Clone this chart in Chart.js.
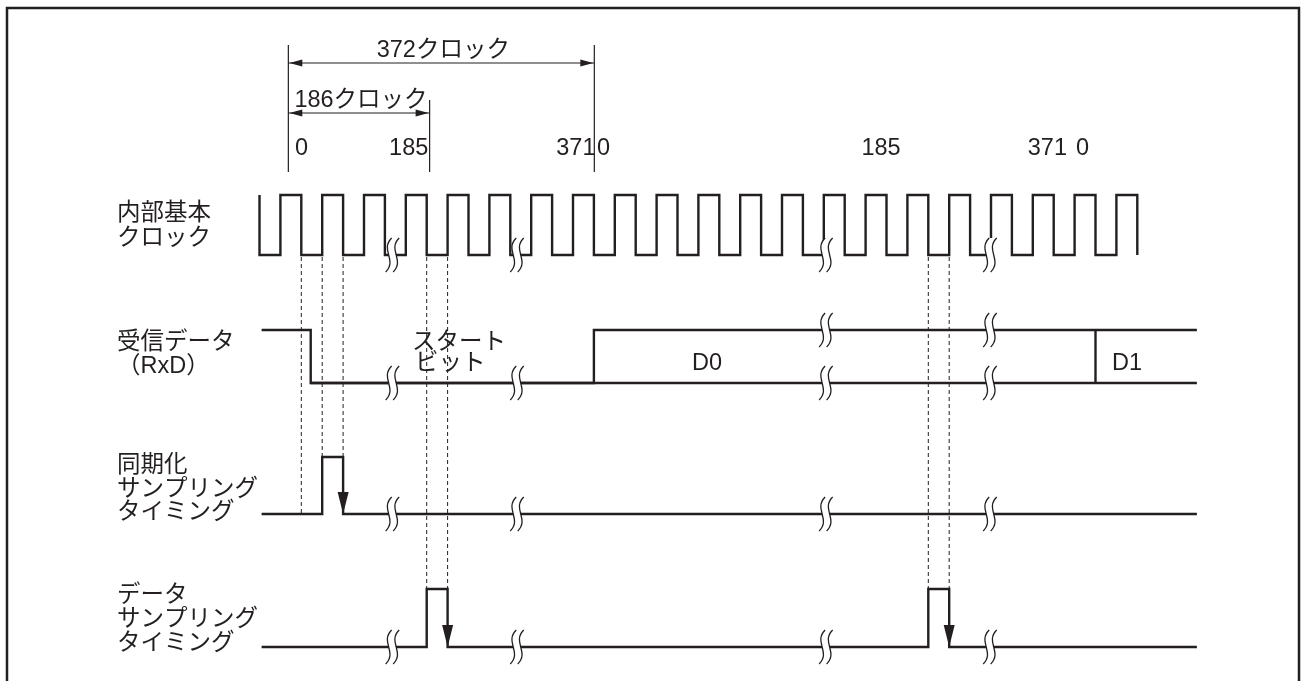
<!DOCTYPE html>
<html>
<head>
<meta charset="utf-8">
<script src="https://cdn.jsdelivr.net/npm/chart.js@4.4.1/dist/chart.umd.min.js"></script>
<style>
  html, body { margin: 0; padding: 0; background: #fff; }
</style>
</head>
<body>
<canvas id="timing" width="1308" height="681"></canvas>
<script>
// time axis is in half clock periods, levels: 0 = low, 1 = high
const clockLevels = [0,1,0,1,0,1,0,1,0,1, 0,1,0,1,0,1,0,1,0,1, 0,1,0,1,0,1,0,1,0,1, 0,1,0,1,0,1,0,1,0,1, 0,1];
const clockStartLevel = 1;
const clockEndLevel = 0;

const rxdTimes = [0.1, 2.45, 16, 44.85];
const rxdLevels = [1, 0, 1];
const rxdLowTimes = [2.45, 44.85];   // lower rail of the data bus
const busFields = ['D0', 'D1'];
const busFieldTimes = [16, 40];

const syncTimes = [0.1, 3, 4, 44.85];
const syncLevels = [0, 1, 0];

const sampleTimes = [0.1, 8, 9, 32, 33, 44.85];
const sampleLevels = [0, 1, 0, 1, 0];

const guideTimes = [2, 3, 4, 8, 9, 32, 33];
const guideTargets = ['sync', 'sync', 'sync', 'data', 'data', 'data', 'data'];
const guideLevels = [0, 1, 1, 1, 1, 1, 1];

const breakTimes = [6.36, 12.32, 27.1, 34.95];

const counterLabels = ['0', '185', '371', '0', '185', '371', '0'];
const counterTimes = [1.7, 6.2, 14.2, 16.15, 28.8, 36.76, 39.07];

const markerTimes = [1.38, 8.14, 16.02];
const spanLabels = ['372クロック', '186クロック'];
const spanFrom = [1.38, 1.38];
const spanTo = [16.02, 8.14];

const laneLabels = {
  clock: ['内部基本', 'クロック'],
  rxd: ['受信データ', '（RxD）'],
  sync: ['同期化', 'サンプリング', 'タイミング'],
  data: ['データ', 'サンプリング', 'タイミング'],
};
const startBitLabel = ['スタート', 'ビット'];

// ---- layout ----
const INK = '#231f20';
const W = 1308, H = 681;
const PX_T0 = 259.5, PX_PER_T = 20.9;
const FONT = '23.5px "Liberation Sans", "Noto Sans CJK JP", sans-serif';
const lanes = {
  clock: { base: 255, height: 60, labelY: [214, 239] },
  rxd: { base: 383, height: 53, labelY: [343, 367] },
  sync: { base: 514, height: 57, labelY: [466, 490, 513] },
  data: { base: 647, height: 58, labelY: [596, 620, 644] },
};
const labelX = 117;
const markerTop = [45, 100, 45], markerBottom = 172;
const spanY = [63, 113];
const counterY = 155;
const busLabelTimes = [20.69, 40.79], busLabelY = 370;
const startBitPos = [[7.3, 343], [7.44, 364]];

const level = (lane, v) => lanes[lane].base - v * lanes[lane].height;

function trace(lane, times, levels) {
  const pts = [];
  levels.forEach((v, i) => {
    pts.push({ x: times[i], y: level(lane, v) });
    pts.push({ x: times[i + 1], y: level(lane, v) });
  });
  return pts;
}

function line(data, extra) {
  return Object.assign({
    data: data,
    showLine: true,
    borderColor: INK,
    borderWidth: 2.4,
    pointRadius: 0,
    fill: false,
    clip: false,
    borderJoinStyle: 'miter',
    borderCapStyle: 'butt',
  }, extra || {});
}

// clock: index of each half period is its time
const clockAll = [clockStartLevel].concat(clockLevels, [clockEndLevel]);
const clockTimes = [0].concat(clockLevels.map((_, i) => i), [clockLevels.length, clockLevels.length]);

const datasets = [
  line(trace('clock', clockTimes, clockAll)),
  line(trace('rxd', rxdTimes, rxdLevels)),
  line(trace('rxd', rxdLowTimes, [0])),
  line(trace('sync', syncTimes, syncLevels)),
  line(trace('data', sampleTimes, sampleLevels)),
];

busFieldTimes.slice(1).forEach((t) => {
  datasets.push(line([{ x: t, y: level('rxd', 0) }, { x: t, y: level('rxd', 1) }]));
});

guideTimes.forEach((t, i) => {
  datasets.push(line([
    { x: t, y: level('clock', 0) + 2 },
    { x: t, y: level(guideTargets[i], guideLevels[i]) },
  ], { borderWidth: 1, borderDash: [4, 3] }));
});

markerTimes.forEach((t, i) => {
  datasets.push(line([{ x: t, y: markerTop[i] }, { x: t, y: markerBottom }], { borderWidth: 1.2 }));
});

spanLabels.forEach((_, i) => {
  datasets.push(line([{ x: spanFrom[i], y: spanY[i] }, { x: spanTo[i], y: spanY[i] }], { borderWidth: 1.2 }));
});

// wavy double line that marks skipped clocks
function drawBreak(ctx, x, y) {
  const hh = 17, gap = 7.5;
  const curve = (cx) => [[cx + 3, y - hh], [cx - 9, y - 5], [cx + 9, y + 5], [cx - 3, y + hh]];
  const a = curve(x - gap / 2), b = curve(x + gap / 2);
  ctx.save();
  ctx.beginPath();
  ctx.moveTo(a[0][0], a[0][1]);
  ctx.bezierCurveTo(a[1][0], a[1][1], a[2][0], a[2][1], a[3][0], a[3][1]);
  ctx.lineTo(b[3][0], b[3][1]);
  ctx.bezierCurveTo(b[2][0], b[2][1], b[1][0], b[1][1], b[0][0], b[0][1]);
  ctx.closePath();
  ctx.fillStyle = '#fff';
  ctx.fill();
  ctx.strokeStyle = INK;
  ctx.lineWidth = 1.3;
  [a, b].forEach((c) => {
    ctx.beginPath();
    ctx.moveTo(c[0][0], c[0][1]);
    ctx.bezierCurveTo(c[1][0], c[1][1], c[2][0], c[2][1], c[3][0], c[3][1]);
    ctx.stroke();
  });
  ctx.restore();
}

function arrowHead(ctx, tipX, tipY, dx, dy, len, half) {
  // dx, dy: unit direction the arrow points to
  const bx = tipX - dx * len, by = tipY - dy * len;
  ctx.beginPath();
  ctx.moveTo(tipX, tipY);
  ctx.lineTo(bx - dy * half, by + dx * half);
  ctx.lineTo(bx + dy * half, by - dx * half);
  ctx.closePath();
  ctx.fill();
}

const diagramPlugin = {
  id: 'diagram',
  afterDatasetsDraw(chart) {
    const ctx = chart.ctx;
    const xs = chart.scales.x, ys = chart.scales.y;
    const px = (t) => xs.getPixelForValue(t);
    const py = (v) => ys.getPixelForValue(v);
    ctx.save();

    // breaks
    breakTimes.forEach((t) => {
      drawBreak(ctx, px(t), py(level('clock', 0)));
      drawBreak(ctx, px(t), py(level('rxd', 0)));
      if (t > busFieldTimes[0]) drawBreak(ctx, px(t), py(level('rxd', 1)));
      drawBreak(ctx, px(t), py(level('sync', 0)));
      drawBreak(ctx, px(t), py(level('data', 0)));
    });

    ctx.fillStyle = INK;
    // sampling arrows on falling edges
    [['sync', syncTimes, syncLevels], ['data', sampleTimes, sampleLevels]].forEach(([lane, times, levels]) => {
      levels.forEach((v, i) => {
        if (v === 1 && levels[i + 1] === 0) {
          arrowHead(ctx, px(times[i + 1]), py(level(lane, 0)), 0, 1, 22, 5.5);
        }
      });
    });

    // span arrows
    spanLabels.forEach((_, i) => {
      const y = py(spanY[i]);
      arrowHead(ctx, px(spanFrom[i]) + 1, y, -1, 0, 13, 3.5);
      arrowHead(ctx, px(spanTo[i]) - 1, y, 1, 0, 13, 3.5);
    });

    // text
    ctx.font = FONT;
    ctx.textBaseline = 'alphabetic';
    ctx.textAlign = 'center';
    spanLabels.forEach((s, i) => {
      ctx.fillText(s, (px(spanFrom[i]) + px(spanTo[i])) / 2 + 2, py(spanY[i]) - 6);
    });
    ctx.textAlign = 'left';
    counterLabels.forEach((s, i) => ctx.fillText(s, px(counterTimes[i]), py(counterY)));
    busFields.forEach((s, i) => ctx.fillText(s, px(busLabelTimes[i]), py(busLabelY)));

    ctx.textBaseline = 'middle';
    Object.keys(laneLabels).forEach((lane) => {
      laneLabels[lane].forEach((s, j) => ctx.fillText(s, labelX, py(lanes[lane].labelY[j])));
    });
    startBitLabel.forEach((s, j) => ctx.fillText(s, px(startBitPos[j][0]), py(startBitPos[j][1])));

    // frame
    ctx.strokeStyle = INK;
    ctx.lineWidth = 2.5;
    ctx.strokeRect(7, 8, 1292, 700);
    ctx.restore();
  },
};

const xMin = -PX_T0 / PX_PER_T;
const xMax = xMin + W / PX_PER_T;

new Chart(document.getElementById('timing').getContext('2d'), {
  type: 'scatter',
  data: { datasets: datasets },
  options: {
    responsive: false,
    animation: false,
    events: [],
    layout: { padding: 0 },
    plugins: {
      legend: { display: false },
      tooltip: { enabled: false },
    },
    scales: {
      x: { type: 'linear', display: false, min: xMin, max: xMax },
      y: { type: 'linear', display: false, min: 0, max: H, reverse: true },
    },
  },
  plugins: [diagramPlugin],
});
</script>
</body>
</html>
